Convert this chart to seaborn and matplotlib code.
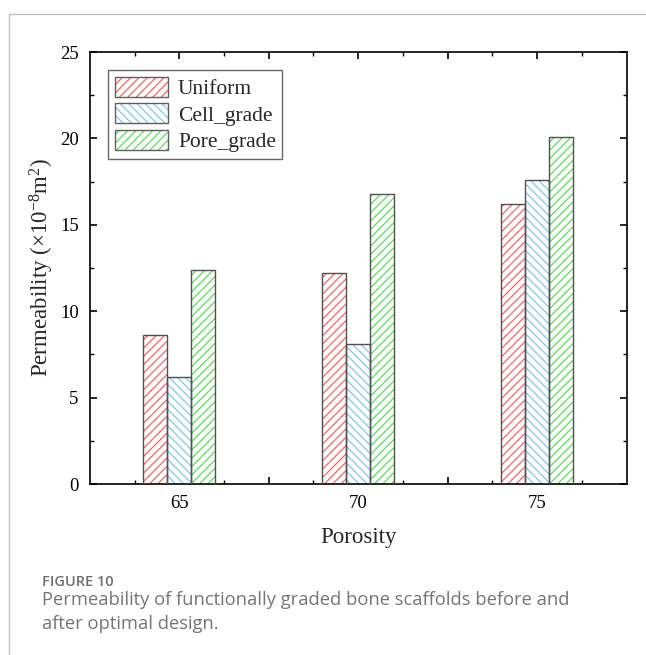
import matplotlib
matplotlib.use("Agg")
import matplotlib.pyplot as plt
import seaborn as sns
import pandas as pd
from matplotlib.patches import Rectangle
from matplotlib.lines import Line2D
from matplotlib.ticker import FixedLocator, MultipleLocator
from matplotlib.legend_handler import HandlerTuple

# ---- data ----
porosity = ["65", "70", "75"]
series_names = ["Uniform", "Cell_grade", "Pore_grade"]
uniform = [8.6, 12.2, 16.2]
cell_grade = [6.2, 8.1, 17.6]
pore_grade = [12.4, 16.8, 20.1]
y_ticks = [0, 5, 10, 15, 20, 25]

hatch_colors = ["#ff6060", "#80c8f0", "#55e055"]
hatches = ["////", "\\\\\\\\", "////"]

rows = []
for name, vals in zip(series_names, [uniform, cell_grade, pore_grade]):
    for p, v in zip(porosity, vals):
        rows.append({"Porosity": p, "Permeability": v, "Type": name})
df = pd.DataFrame(rows)

sns.set_style("ticks")
plt.rcParams["font.family"] = ["Liberation Serif", "DejaVu Serif"]
plt.rcParams["mathtext.fontset"] = "custom"
plt.rcParams["mathtext.rm"] = "Liberation Serif"
plt.rcParams["mathtext.it"] = "Liberation Serif:italic"
plt.rcParams["hatch.linewidth"] = 0.9

fig = plt.figure(figsize=(6.46, 6.55), dpi=100)
ax = fig.add_axes([0.139, 0.261, 0.831, 0.6596])

sns.barplot(data=df, x="Porosity", y="Permeability", hue="Type",
            order=porosity, hue_order=series_names, width=0.4,
            palette=hatch_colors, ax=ax, legend=False)

# style bars: hatch in colour, dark outline on top
for i, cont in enumerate(ax.containers):
    for patch in cont:
        patch.set_facecolor("white")
        patch.set_edgecolor(hatch_colors[i])
        patch.set_hatch(hatches[i])
        patch.set_linewidth(0)
        x, y = patch.get_xy()
        ax.add_patch(Rectangle((x, y), patch.get_width(), patch.get_height(),
                               fill=False, edgecolor="#505050", linewidth=1.0, zorder=3))

ax.set_xlim(-0.5, 2.5)
ax.set_ylim(0, 25)
ax.set_yticks(y_ticks)
ax.yaxis.set_minor_locator(MultipleLocator(2.5))
ax.xaxis.set_major_locator(FixedLocator([0, 0.5, 1, 1.5, 2]))
ax.set_xticklabels(["65", "", "70", "", "75"])
ax.xaxis.set_minor_locator(FixedLocator([-0.25, 0.25, 0.75, 1.25, 1.75, 2.25]))

ax.tick_params(which="both", direction="in", top=True, right=True, colors="black")
ax.tick_params(which="major", length=5, width=1.2, labelsize=13.5, pad=8)
ax.tick_params(which="minor", length=3, width=1.0)
for s in ax.spines.values():
    s.set_linewidth(1.2)
    s.set_color("black")

ax.set_xlabel("Porosity", fontsize=16.5, labelpad=11)
ax.set_ylabel("Permeability ($\\times$10$^{-8}$m$^{2}$)", fontsize=16.5, labelpad=3)

# legend
handles = []
for c, h in zip(hatch_colors, hatches):
    hatch_patch = Rectangle((0, 0), 1, 1, facecolor="white", edgecolor=c, hatch=h, linewidth=0)
    outline = Rectangle((0, 0), 1, 1, fill=False, edgecolor="#606060", linewidth=1.0)
    handles.append((hatch_patch, outline))
leg = ax.legend(handles, series_names, loc="upper left", bbox_to_anchor=(0.034, 0.958),
                fontsize=15.5, frameon=True, fancybox=False, edgecolor="#404040",
                handlelength=2.5, handleheight=1.05, handletextpad=0.45,
                labelspacing=0.2, borderpad=0.3, borderaxespad=0.0,
                handler_map={tuple: HandlerTuple(ndivide=1, pad=0)})
leg.get_frame().set_linewidth(1.0)

# page frame lines
fig.add_artist(Line2D([9/646, 9/646], [0, 1 - 14/655], color="#c0c0c0", linewidth=1.0))
fig.add_artist(Line2D([9/646, 1], [1 - 14/655, 1 - 14/655], color="#c0c0c0", linewidth=1.0))

# caption
fig.text(42/646, 1 - 582/655, "FIGURE 10", fontsize=10.5, color="#6e6e6e",
         family=["Open Sans", "DejaVu Sans"], weight="semibold", va="center", ha="left")
fig.text(42/646, 1 - 600/655, "Permeability of functionally graded bone scaffolds before and",
         fontsize=13.2, color="#757575", family=["Open Sans", "DejaVu Sans"], va="center", ha="left")
fig.text(42/646, 1 - 624/655, "after optimal design.",
         fontsize=13.2, color="#757575", family=["Open Sans", "DejaVu Sans"], va="center", ha="left")

fig.savefig("out.png", dpi=100)
